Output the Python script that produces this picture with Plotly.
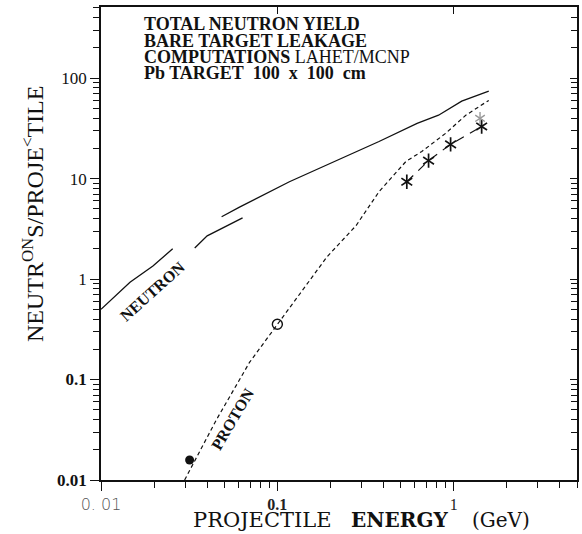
import math
import plotly.graph_objects as go

# ---------------- data ----------------
neutron_seg1_x = [0.01, 0.0146, 0.0197, 0.0255]
neutron_seg1_y = [0.5, 0.93, 1.35, 2.0]
neutron_seg2_x = [0.034, 0.040, 0.0635]
neutron_seg2_y = [2.04, 2.69, 4.07]
neutron_seg3_x = [0.0483, 0.061, 0.117, 0.377, 0.62, 0.82, 1.11, 1.58]
neutron_seg3_y = [4.17, 5.2, 9.3, 23.4, 35.5, 42.7, 59, 74]

proton_x = [0.0298, 0.0452, 0.0695, 0.1, 0.191, 0.279, 0.377, 0.536, 0.659, 0.90, 1.17, 1.58]
proton_y = [0.01, 0.040, 0.148, 0.355, 1.66, 3.39, 7.4, 14.8, 18.6, 28.2, 42.7, 60]

star_x = [0.542, 0.72, 0.96, 1.44]
star_y = [9.3, 15.1, 21.9, 33]
grey_star_x = [1.41]
grey_star_y = [39.8]

filled_pt_x = [0.0318]
filled_pt_y = [0.0158]
open_pt_x = [0.1]
open_pt_y = [0.355]

x_tick_vals = [0.01, 0.1, 1]
x_tick_text = ["<span style='font-family:DejaVu Sans;font-weight:300;fill:#555'>0. 01</span>",
               "<b>0.1</b>", "1"]
y_tick_vals = [0.01, 0.1, 1, 10, 100]
y_tick_text = ["<b>0.01</b>", "<b>0.1</b>", "1", "10", "100"]

title_lines = ["<b>TOTAL NEUTRON YIELD</b>",
               "<b>BARE TARGET LEAKAGE</b>",
               "<b>COMPUTATIONS</b> LAHET/MCNP",
               "<b>Pb TARGET&nbsp; 100&nbsp; x&nbsp; 100&nbsp; cm</b>"]

x_title_words = ["PROJECTILE", "<b>ENERGY</b>", "(GeV)"]

X_MAX = 5
Y_MAX = 510

# ---------------- figure ----------------
def minor_vals(lo, hi):
    out = []
    d = lo
    while d < hi:
        for k in range(2, 10):
            v = k * d
            if v <= hi:
                out.append(v)
        d *= 10
    return out

BLACK = "#111111"
GREY = "#9a9a9a"
SERIF = "Liberation Serif"

fig = go.Figure()
for xs, ys in [(neutron_seg1_x, neutron_seg1_y), (neutron_seg2_x, neutron_seg2_y),
               (neutron_seg3_x, neutron_seg3_y)]:
    fig.add_trace(go.Scatter(x=xs, y=ys, mode="lines",
                             line=dict(color=BLACK, width=1.3), hoverinfo="skip"))
fig.add_trace(go.Scatter(x=proton_x, y=proton_y, mode="lines",
                         line=dict(color=BLACK, width=1.2, dash="4px,3px"), hoverinfo="skip"))
fig.add_trace(go.Scatter(x=star_x, y=star_y, mode="lines",
                         line=dict(color=BLACK, width=1.2, dash="9px,7px"),
                         hoverinfo="skip"))
# six-armed asterisks built from two "Y" symbols
for sym in ["y-up-open", "y-down-open"]:
    fig.add_trace(go.Scatter(x=star_x, y=star_y, mode="markers",
                             marker=dict(symbol=sym, size=9, color=BLACK,
                                         line=dict(color=BLACK, width=1.7)),
                             hoverinfo="skip"))
    fig.add_trace(go.Scatter(x=grey_star_x, y=grey_star_y, mode="markers",
                             marker=dict(symbol=sym, size=8, color=GREY,
                                         line=dict(color=GREY, width=1.4)),
                             hoverinfo="skip"))
fig.add_trace(go.Scatter(x=filled_pt_x, y=filled_pt_y, mode="markers",
                         marker=dict(symbol="circle", size=9, color=BLACK), hoverinfo="skip"))
fig.add_trace(go.Scatter(x=open_pt_x, y=open_pt_y, mode="markers",
                         marker=dict(symbol="circle-open", size=10, color=BLACK,
                                     line=dict(color=BLACK, width=1.4)), hoverinfo="skip"))
# invisible trace to activate the top/right companion axes
fig.add_trace(go.Scatter(x=[1], y=[1], xaxis="x2", yaxis="y2", mode="markers",
                         marker=dict(opacity=0), hoverinfo="skip"))

xr = [-2, math.log10(X_MAX)]
yr = [-2, math.log10(Y_MAX)]

fig.update_layout(
    width=582, height=534,
    margin=dict(l=101, r=5, t=7, b=54),
    paper_bgcolor="white", plot_bgcolor="white",
    showlegend=False,
    font=dict(family=SERIF, color=BLACK),
    xaxis=dict(type="log", range=xr, showgrid=False, zeroline=False,
               showline=True, linecolor=BLACK, linewidth=1.5,
               ticks="outside", ticklen=9, tickwidth=1.2, tickcolor=BLACK,
               tickvals=x_tick_vals, ticktext=x_tick_text,
               tickfont=dict(size=16, family=SERIF, color="#222"),
               minor=dict(ticks="outside", ticklen=6, tickwidth=1.1, tickcolor=BLACK,
                          tickvals=minor_vals(0.01, X_MAX), showgrid=False)),
    xaxis2=dict(type="log", range=xr, overlaying="x", side="top", showgrid=False,
                zeroline=False, showline=True, linecolor=BLACK, linewidth=2,
                ticks="inside", ticklen=7, tickwidth=1.1, tickcolor=BLACK,
                tickvals=[0.1, 1], showticklabels=False),
    yaxis=dict(type="log", range=yr, showgrid=False, zeroline=False,
               showline=True, linecolor=BLACK, linewidth=1.5,
               ticks="outside", ticklen=9, tickwidth=1.2, tickcolor=BLACK,
               tickvals=y_tick_vals, ticktext=y_tick_text,
               tickfont=dict(size=17, family=SERIF, color=BLACK),
               minor=dict(ticks="outside", ticklen=6, tickwidth=1.1, tickcolor=BLACK,
                          tickvals=minor_vals(0.01, Y_MAX), showgrid=False)),
    yaxis2=dict(type="log", range=yr, overlaying="y", side="right", showgrid=False,
                zeroline=False, showline=True, linecolor=BLACK, linewidth=1.5,
                ticks="inside", ticklen=7, tickwidth=1.1, tickcolor=BLACK,
                tickvals=y_tick_vals, showticklabels=False,
                minor=dict(ticks="inside", ticklen=6, tickwidth=1.0, tickcolor=BLACK,
                           tickvals=minor_vals(0.01, Y_MAX))),
)

def px_x(px):
    return (px - 101) / 476.0

def px_y(py):
    return (480 - py) / 473.0

anns = []
# header block
for line, cy in zip(title_lines, [24, 41, 57, 73]):
    anns.append(dict(xref="paper", yref="paper", x=px_x(142), y=px_y(cy),
                     xanchor="left", yanchor="middle", showarrow=False,
                     text=line, font=dict(family=SERIF, size=18, color=BLACK)))
# curve labels
anns.append(dict(xref="paper", yref="paper", x=px_x(152), y=px_y(291),
                 xanchor="center", yanchor="middle",
                 text="<b>NEUTRON</b>", textangle=-42, showarrow=False,
                 font=dict(family=SERIF, size=16, color=BLACK)))
anns.append(dict(xref="paper", yref="paper", x=px_x(232), y=px_y(419),
                 xanchor="center", yanchor="middle",
                 text="<b>PROTON</b>", textangle=-59.5, showarrow=False,
                 font=dict(family=SERIF, size=16, color=BLACK)))
# y axis title
anns.append(dict(xref="paper", yref="paper", x=px_x(33), y=px_y(214),
                 text="NEUTR<sup>ON</sup>S/PROJE<sup>&lt;</sup>TILE", textangle=-90,
                 showarrow=False, xanchor="center", yanchor="middle",
                 font=dict(family=SERIF, size=24, color=BLACK)))
# x axis title (three words, spaced as in the reference)
for word, cx, size in zip(x_title_words, [262, 399, 501], [21, 20, 20]):
    anns.append(dict(xref="paper", yref="paper", x=px_x(cx), y=px_y(520),
                     text=word, showarrow=False, xanchor="center", yanchor="middle",
                     font=dict(family="DejaVu Serif", size=size, color=BLACK)))
fig.update_layout(annotations=anns)

fig.write_html("out.html")
